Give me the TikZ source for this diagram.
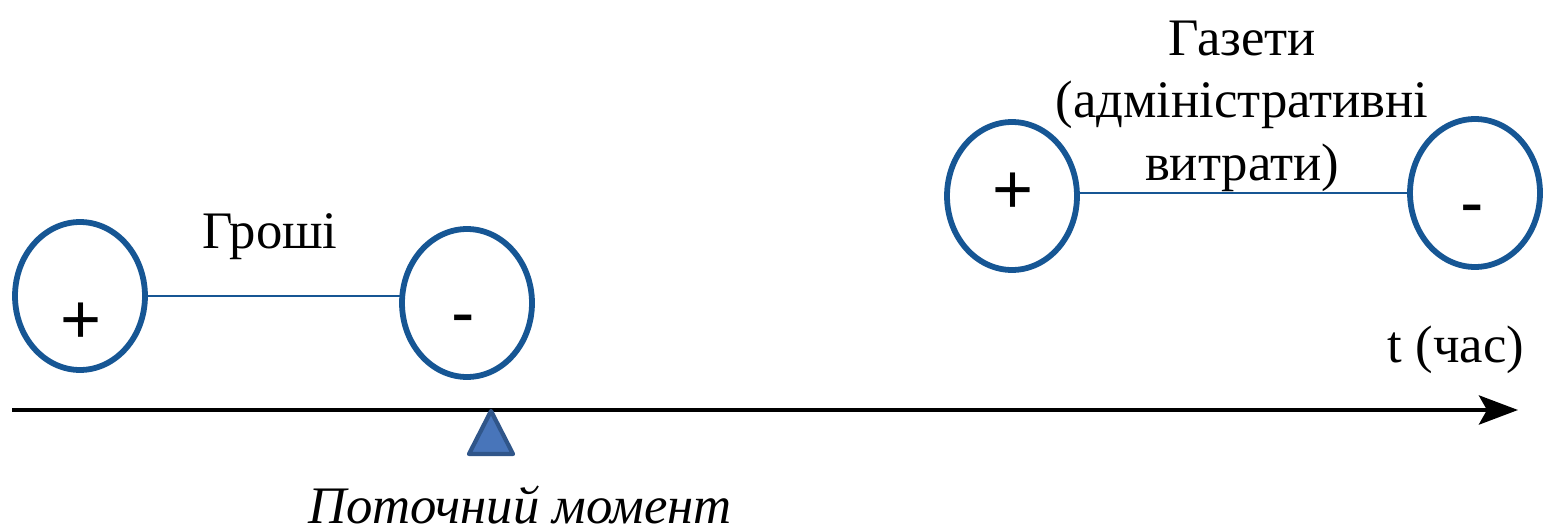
\documentclass[tikz,border=0pt]{standalone}
\usepackage{fontspec}
\setmainfont{Liberation Serif}
\newfontfamily\signfont{Liberation Sans}
\usetikzlibrary{shapes.geometric, arrows.meta, positioning}
\definecolor{ringblue}{RGB}{22,86,148}
\definecolor{markfill}{RGB}{72,117,186}
\definecolor{markdraw}{RGB}{48,86,138}
\tikzset{
	ring/.style={ellipse, draw=ringblue, fill=white, line width=3.3pt, minimum width=2.6cm, minimum height=2.96cm, inner sep=0pt, outer sep=0pt},
	link/.style={draw=ringblue, line width=1.1pt},
	caption/.style={font=\fontsize{30}{35.3}\selectfont, align=center, inner sep=0pt, anchor=base},
	sign/.style={font=\signfont\fontsize{40}{40}\selectfont, inner sep=0pt},
}
\begin{document}
\begin{tikzpicture}[x=0.02cm, y=-0.02cm]
	\useasboundingbox (0,0) rectangle (1544,527);
	%Time axis
	\coordinate (axisStart) at (12,410);
	\coordinate (axisEnd) at (1518,410);
	\draw [line width=2.8pt, -{Stealth[length=0.78cm, width=0.58cm, inset=0.16cm]}] (axisStart) -- (axisEnd);
	\node [caption] (timeLabel) at (1456,362) {t (час)};
	%Current moment marker
	\coordinate (now) at (491,411);
	\draw [draw=markdraw, fill=markfill, line width=2.4pt, line join=round] (now) -- ++(22,43) -- ++(-44,0) -- cycle;
	\node [caption, font=\itshape\fontsize{30}{35.3}\selectfont] (nowLabel) at (520,523) {Поточний момент};
	%Money: plus and minus
	\node [ring] (moneyPlus) at (80,296) {};
	\node [ring] (moneyMinus) at (467,303) {};
	\draw [link] (moneyPlus.east) -- (moneyPlus.east -| moneyMinus.west);
	\node [sign] (signA) at (81,323) {+};
	\node [sign] (signB) at (463,326) {-};
	\node [caption] (moneyLabel) at (270,248) {Гроші};
	%Newspapers: plus and minus
	\node [ring] (paperPlus) at (1012,196) {};
	\node [ring] (paperMinus) at (1475,193) {};
	\draw [link] (paperPlus.east |- paperMinus.west) -- (paperMinus.west);
	\node [sign] (signC) at (1013,193) {+};
	\node [sign] (signD) at (1472,216) {-};
	\node [caption] (paperLabel) at (1242,180) {Газети\\(адміністративні\\витрати)};
\end{tikzpicture}
\end{document}
